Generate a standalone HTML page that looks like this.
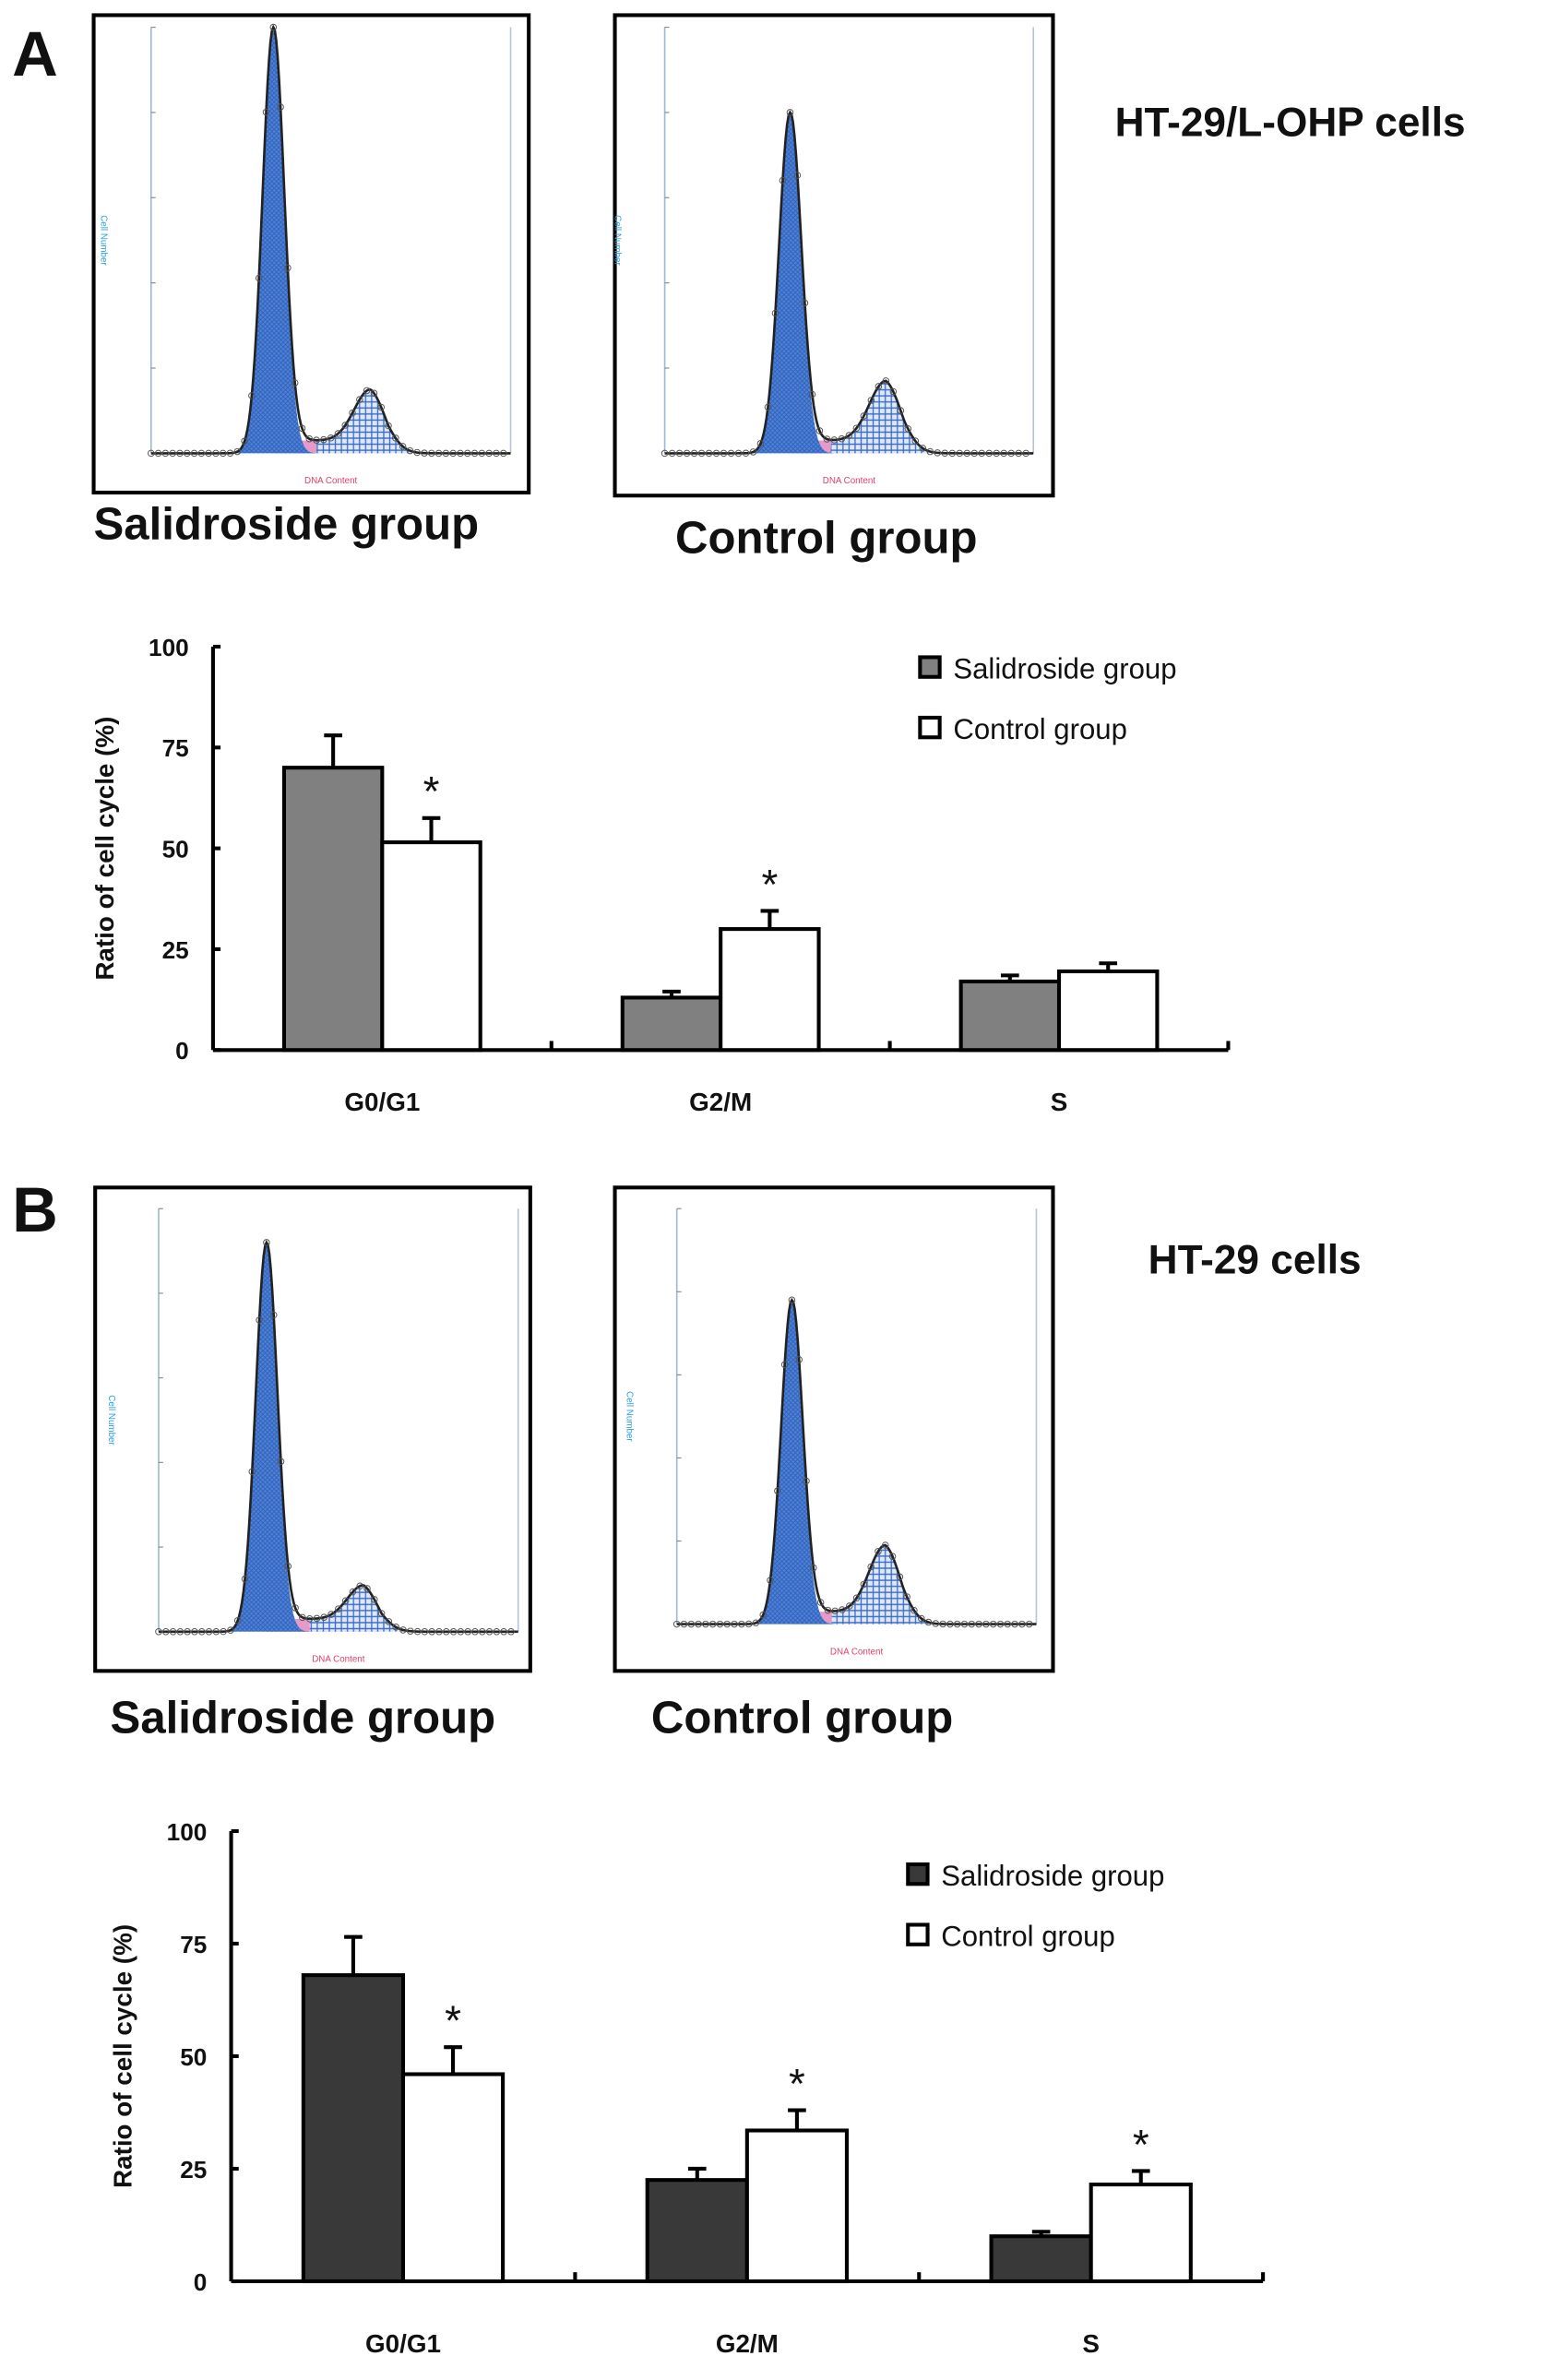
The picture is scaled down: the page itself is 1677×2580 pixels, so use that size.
<!DOCTYPE html>
<html><head><meta charset="utf-8"><style>
html,body{margin:0;padding:0;background:#fff;}
svg{display:block;}
text{font-family:"Liberation Sans",sans-serif;}
.lab{font-weight:bold;fill:#111;}
</style></head><body>
<svg id="fig" width="1677" height="2580" viewBox="0 0 1024 1575.3" xmlns="http://www.w3.org/2000/svg">
<defs>
<pattern id="hatch" width="3" height="3" patternUnits="userSpaceOnUse"><rect width="3" height="3" fill="#4f82d6"/><path d="M0 0L3 3M3 0L0 3" stroke="#2d5fb8" stroke-width="0.5"/></pattern>
<pattern id="hatch2" width="4" height="4" patternUnits="userSpaceOnUse"><rect width="4" height="4" fill="#dfe8f8"/><path d="M0 2H4M2 0V4" stroke="#3b6cc8" stroke-width="0.8"/></pattern>
</defs>
<text x="8" y="50" font-size="42" class="lab">A</text>
<text x="8" y="815" font-size="42" class="lab">B</text>
<text x="738" y="90" font-size="27" class="lab">HT-29/L-OHP cells</text>
<text x="760" y="843" font-size="27" class="lab">HT-29 cells</text>
<text x="62" y="357" font-size="30" class="lab">Salidroside group</text>
<text x="447" y="366" font-size="30" class="lab">Control group</text>
<text x="73" y="1147" font-size="30" class="lab">Salidroside group</text>
<text x="431" y="1147" font-size="30" class="lab">Control group</text>
<g id="hists"></g>
<g id="charts"></g>
</svg>
<script>
// Bar chart data
const categories = ["G0/G1","G2/M","S"];
const aSalValues = [70, 13, 17];
const aSalErr = [8, 1.5, 1.5];
const aCtrlValues = [51.5, 30, 19.5];
const aCtrlErr = [6, 4.5, 2];
const aStars = [true, true, false];
const bSalValues = [68, 22.5, 10];
const bSalErr = [8.5, 2.5, 1];
const bCtrlValues = [46, 33.5, 21.5];
const bCtrlErr = [6, 4.5, 3];
const bStars = [true, true, true];
const yTicks = [0, 25, 50, 75, 100];

// Histogram shape data (peak heights as fraction of axis, positions as fraction of x range)
const histA1 = {g1pos:0.34, g1h:1.0, g2pos:0.61, g2h:0.12};
const histA2 = {g1pos:0.34, g1h:0.80, g2pos:0.60, g2h:0.14};
const histB1 = {g1pos:0.30, g1h:0.92, g2pos:0.57, g2h:0.08};
const histB2 = {g1pos:0.32, g1h:0.78, g2pos:0.58, g2h:0.16};

const NS = "http://www.w3.org/2000/svg";
function mk(tag, attrs, parent){const e=document.createElementNS(NS,tag);for(const k in attrs)e.setAttribute(k,attrs[k]);parent.appendChild(e);return e;}

function drawHist(parent, box, ax, d, nm){
  const g = mk('g',{},parent);
  
  
  mk('rect',{x:box[0],y:box[1],width:box[2],height:box[3],fill:'#fff',stroke:'#000','stroke-width':2.5},g);
  const [x0,x1,yb,yt]=ax;
  mk('line',{x1:x0,y1:yt,x2:x0,y2:yb,stroke:'#9fb7d8','stroke-width':1},g);
  mk('line',{x1:x1,y1:yt,x2:x1,y2:yb,stroke:'#b8c4dc','stroke-width':1},g);
  for(let i=1;i<6;i++){const y=yb-(yb-yt)*i/5;mk('line',{x1:x0,y1:y,x2:x0+3,y2:y,stroke:'#888','stroke-width':0.7},g);}
  const W=x1-x0,H=yb-yt;
  const X=f=>x0+W*f;
  const g1=x=>d.g1h*Math.exp(-Math.pow((x-d.g1pos)/0.03,2)/2);
  const g2=x=>d.g2h*Math.exp(-Math.pow((x-d.g2pos)/0.045,2)/2);
  const sph=x=>(x>d.g1pos&&x<d.g2pos+0.05)?0.03*Math.min(1,(x-d.g1pos)/0.05)*Math.min(1,(d.g2pos+0.05-x)/0.05):0;
  let p1=`M${X(d.g1pos-0.12)} ${yb}`,p2=`M${X(d.g2pos-0.15)} ${yb}`,p3=`M${X(d.g1pos)} ${yb}`,tot='M'+x0+' '+yb;
  for(let f=0;f<=1.0001;f+=0.004){
    if(Math.abs(f-d.g1pos)<0.12)p1+=` L${X(f)} ${yb-H*g1(f)}`;
    if(Math.abs(f-d.g2pos)<0.15)p2+=` L${X(f)} ${yb-H*(g2(f)+sph(f))}`;
    if(f>=d.g1pos&&f<=d.g2pos+0.05)p3+=` L${X(f)} ${yb-H*sph(f)}`;
    tot+=` L${X(f)} ${yb-H*(g1(f)+g2(f)+sph(f))}`;
  }
  mk('path',{d:p3+` L${X(d.g2pos+0.05)} ${yb}Z`,fill:'#e59ac8'},g);
  mk('path',{d:p2+` L${X(d.g2pos+0.15)} ${yb}Z`,fill:'url(#hatch2)'},g);
  mk('path',{d:p1+` L${X(d.g1pos+0.12)} ${yb}Z`,fill:'url(#hatch)'},g);
  mk('path',{d:tot,fill:'none',stroke:'#222','stroke-width':1.6},g);
  for(let f=0;f<=1;f+=0.02){const y=yb-H*(g1(f)+g2(f)+sph(f));mk('circle',{cx:X(f),cy:y,r:2,fill:'none',stroke:'#555','stroke-width':0.6},g);}
  const t1=mk('text',{x:x0-33,y:(yb+yt)/2,'font-size':6,fill:'#2aa0e0',transform:`rotate(90 ${x0-33} ${(yb+yt)/2})`,'text-anchor':'middle'},g);t1.textContent='Cell Number';
  const t2=mk('text',{x:(x0+x1)/2,y:yb+20,'font-size':6,fill:'#e0406a','text-anchor':'middle'},g);t2.textContent='DNA Content';
}
const H=document.getElementById('hists');
drawHist(H,[62,10,288,316],[100,338,300,18],histA1,'histogram-a-salidroside');
drawHist(H,[407,10,290,318],[440,684,300,18],histA2,'histogram-a-control');
drawHist(H,[63,786,288,320],[105,343,1080,800],histB1,'histogram-b-salidroside');
drawHist(H,[407,786,290,320],[448,686,1075,800],histB2,'histogram-b-control');

function drawChart(parent, o){
  const g=mk('g',{},parent);
  
  
  const y=v=>o.yb-(o.yb-o.yt)*v/100;
  const gw=(o.xr-o.xl)/3;
  mk('line',{x1:o.xl,y1:o.yt,x2:o.xl,y2:o.yb,stroke:'#000','stroke-width':2.5},g);
  mk('line',{x1:o.xl,y1:o.yb,x2:o.xr,y2:o.yb,stroke:'#000','stroke-width':2.5},g);
  yTicks.forEach(t=>{
    mk('line',{x1:o.xl,y1:y(t),x2:o.xl+5,y2:y(t),stroke:'#000','stroke-width':2.5},g);
    const tx=mk('text',{x:o.xl-16,y:y(t)+6,'font-size':16,'font-weight':'bold','text-anchor':'end',fill:'#111'},g);
    tx.textContent=t;
    
    
  });
  for(let i=1;i<=3;i++){const x=o.xl+gw*i;mk('line',{x1:x,y1:o.yb,x2:x,y2:o.yb-6,stroke:'#000','stroke-width':2.5},g);}
  const bw=gw*0.29;
  categories.forEach((c,i)=>{
    const cx=o.xl+gw*(i+0.5);
    const bars=[[o.sal[i],o.salE[i],cx-bw,o.gray],[o.ctl[i],o.ctlE[i],cx,'#fff']];
    bars.forEach((b,j)=>{
      const ex=b[2]+bw/2;
      mk('line',{x1:ex,y1:y(b[0]),x2:ex,y2:y(b[0]+b[1]),stroke:'#000','stroke-width':2.5},g);
      mk('line',{x1:ex-6,y1:y(b[0]+b[1]),x2:ex+6,y2:y(b[0]+b[1]),stroke:'#000','stroke-width':2.5},g);
      const r=mk('rect',{x:b[2],y:y(b[0]),width:bw,height:y(0)-y(b[0]),fill:b[3],stroke:'#000','stroke-width':2.5},g);
      
      
    });
    if(o.stars[i]){const s=mk('text',{x:cx+bw/2,y:y(o.ctl[i]+o.ctlE[i])-8,'font-size':28,'text-anchor':'middle',fill:'#111'},g);s.textContent='*';
      
      }
    const l=mk('text',{x:cx,y:o.labY,'font-size':17,'font-weight':'bold','text-anchor':'middle',fill:'#111'},g);
    l.textContent=c;
    
    
  });
  const ty=(o.yt+o.yb)/2;
  const tt=mk('text',{x:o.xl-66,y:ty,'font-size':17,'font-weight':'bold','text-anchor':'middle',fill:'#111',transform:`rotate(-90 ${o.xl-66} ${ty})`},g);
  tt.textContent='Ratio of cell cycle (%)';
  
  
  const leg=[['Salidroside group',o.gray],['Control group','#fff']];
  leg.forEach((L,k)=>{
    const ly=o.legY+k*40;
    mk('rect',{x:o.legX,y:ly-14,width:13,height:13,fill:L[1],stroke:'#000','stroke-width':2.5},g);
    const lt=mk('text',{x:o.legX+22,y:ly,'font-size':19,fill:'#111'},g);
    lt.textContent=L[0];
    
    
  });
}
const C=document.getElementById('charts');
drawChart(C,{name:'bar-chart-a',xl:141,xr:813,yt:428,yb:695,sal:aSalValues,salE:aSalErr,ctl:aCtrlValues,ctlE:aCtrlErr,stars:aStars,gray:'#808080',labY:735,legX:609,legY:449});
drawChart(C,{name:'bar-chart-b',xl:153,xr:836,yt:1212,yb:1510,sal:bSalValues,salE:bSalErr,ctl:bCtrlValues,ctlE:bCtrlErr,stars:bStars,gray:'#393939',labY:1557,legX:601,legY:1248});
</script>
</body></html>
